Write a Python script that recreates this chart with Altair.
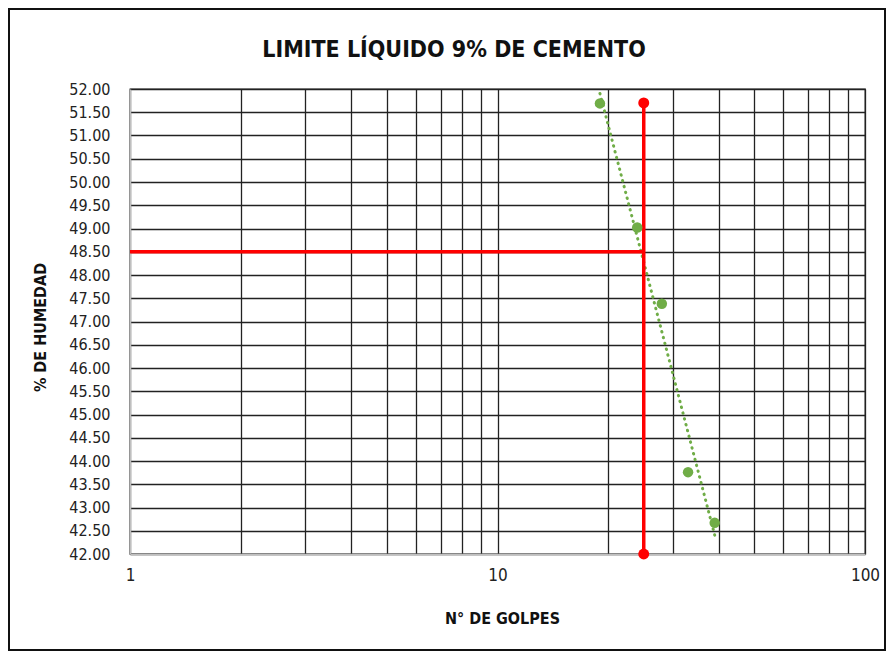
import altair as alt
import pandas as pd

# ---- data ----
golpes = [19, 24, 28, 33, 39]
humedad = [51.69, 49.02, 47.38, 43.76, 42.67]

ll_golpes = 25          # N° de golpes for liquid limit
ll_humedad = 48.5       # liquid limit (% humedad)
red_top = 51.7
red_bottom = 42.0

x_grid_values = [1, 2, 3, 4, 5, 6, 7, 8, 9, 10, 20, 30, 40, 50, 60, 70, 80, 90, 100]
x_label_values = [1, 10, 100]
y_values = [42.0, 42.5, 43.0, 43.5, 44.0, 44.5, 45.0, 45.5, 46.0, 46.5, 47.0,
            47.5, 48.0, 48.5, 49.0, 49.5, 50.0, 50.5, 51.0, 51.5, 52.0]

title_text = "LIMITE LÍQUIDO 9% DE CEMENTO"
x_title = "N° DE GOLPES"
y_title = "% DE HUMEDAD"

FONT = "Liberation Sans Narrow, DejaVu Sans Condensed, sans-serif"
GREEN = "#70AD47"
RED = "#FF0000"

pts = pd.DataFrame({"x": golpes, "y": humedad})
hline = pd.DataFrame({"x": [1], "x2": [ll_golpes], "y": [ll_humedad]})
vline = pd.DataFrame({"x": [ll_golpes], "y": [red_bottom], "y2": [red_top]})
reddots = pd.DataFrame({"x": [ll_golpes, ll_golpes], "y": [red_bottom, red_top]})
title_df = pd.DataFrame({"t": [title_text]})

label_expr = "indexof(" + str(x_label_values) + ", datum.value) >= 0 ? format(datum.value, 'd') : ''"

xscale = alt.Scale(type="log", domain=[1, 100], nice=False)
yscale = alt.Scale(domain=[42, 52], nice=False, zero=False)

xaxis = alt.Axis(values=x_grid_values, labelExpr=label_expr, title=x_title,
                 grid=True, ticks=False, labelPadding=13, labelBaseline="top",
                 labelFontSize=17, labelFont=FONT, labelColor="#222",
                 labelOverlap=False, labelFlush=False,
                 titleFont=FONT, titleFontSize=16, titleFontWeight="bold",
                 titleX=372, titleY=64, titleBaseline="middle", titleColor="#111")
yaxis = alt.Axis(values=y_values, format=".2f", title=y_title, grid=True, ticks=False,
                 labelPadding=20, labelFontSize=16, labelFont=FONT, labelColor="#222",
                 labelOverlap=False, labelFlush=False,
                 titleFont=FONT, titleFontSize=16, titleFontWeight="bold",
                 titleX=-90, titleY=238, titleAngle=-90, titleBaseline="middle",
                 titleColor="#111")

X = alt.X("x:Q", scale=xscale, axis=xaxis)
Y = alt.Y("y:Q", scale=yscale, axis=yaxis)

base_pts = alt.Chart(pts)

trend = base_pts.transform_regression("x", "y", method="log").mark_line(
    color=GREEN, strokeWidth=3, strokeDash=[0.5, 5.5], strokeCap="round"
).encode(x=X, y=Y)

points = base_pts.mark_circle(color=GREEN, size=110, opacity=1).encode(x=X, y=Y)

hrule = alt.Chart(hline).mark_rule(color=RED, strokeWidth=3.5).encode(
    x=X, x2="x2:Q", y=Y
)
vrule = alt.Chart(vline).mark_rule(color=RED, strokeWidth=3.5).encode(
    x=X, y=Y, y2="y2:Q"
)
rdots = alt.Chart(reddots).mark_circle(color=RED, size=120, opacity=1).encode(
    x=X, y=Y
)

frame = alt.Chart(pd.DataFrame({"a": [0]})).mark_rect(
    filled=False, stroke="#111", strokeWidth=2
).encode(
    x=alt.value(-121), x2=alt.value(755), y=alt.value(-80), y2=alt.value(561)
)

title = alt.Chart(title_df).mark_text(
    font=FONT, fontSize=23, fontWeight="bold", color="#111",
    align="center", baseline="alphabetic"
).encode(text="t:N", x=alt.value(324), y=alt.value(-32))

chart = alt.layer(trend, hrule, vrule, points, rdots, frame, title).properties(
    width=735, height=465,
    autosize=alt.AutoSizeParams(type="none"),
    padding={"left": 122, "top": 81, "right": 21, "bottom": 97},
    background="white",
).configure_view(stroke="#222", strokeWidth=1.3).configure_axis(
    gridColor="#222", gridWidth=1.3, gridOpacity=1,
    domainColor="#BFBFBF", domainWidth=1.5,
)

chart.save("out.html", embed_options={"renderer": "svg", "actions": False})
